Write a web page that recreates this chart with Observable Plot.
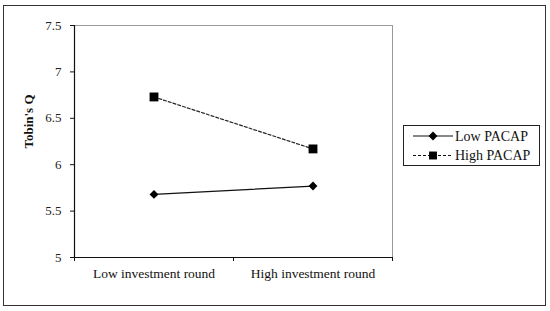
<!DOCTYPE html>
<html>
<head>
<meta charset="utf-8">
<script src="https://cdn.jsdelivr.net/npm/d3@7"></script>
<script src="https://cdn.jsdelivr.net/npm/@observablehq/plot@0.6"></script>
<style>
  html, body { margin: 0; padding: 0; background: #fff; }
  #wrap { position: relative; width: 550px; height: 311px; overflow: hidden; font-family: "Liberation Serif", "Times New Roman", serif; }
  #wrap svg, #wrap svg text { font-family: "Liberation Serif", "Times New Roman", serif !important; }
  #frame { position: absolute; left: 3px; top: 5px; width: 541px; height: 299px; border: 1px solid #333; pointer-events: none; }
  #chart { position: absolute; left: 0; top: 0; }
  #legend { position: absolute; left: 403px; top: 125px; }
</style>
</head>
<body>
<div id="wrap">
  <div id="chart"></div>
  <div id="frame"></div>
  <div id="legend"></div>
</div>
<script>
const categories = ["Low investment round", "High investment round"];
const series = ["Low PACAP", "High PACAP"];
const lowPacap = [5.68, 5.77];
const highPacap = [6.73, 6.17];
const yTicks = [5, 5.5, 6, 6.5, 7, 7.5];
const yLabel = "Tobin's Q";

const data = [];
categories.forEach((c, i) => {
  data.push({cat: c, pos: i + 0.5, series: series[0], value: lowPacap[i]});
  data.push({cat: c, pos: i + 0.5, series: series[1], value: highPacap[i]});
});
const lowData = data.filter(d => d.series === series[0]);
const highData = data.filter(d => d.series === series[1]);
const catPos = categories.map((c, i) => ({cat: c, pos: i + 0.5}));
const boundaries = d3.range(categories.length + 1);

const font = '"Liberation Serif", "Times New Roman", serif';

const chart = Plot.plot({
  width: 550,
  height: 311,
  marginLeft: 74,
  marginRight: 158,
  marginTop: 25,
  marginBottom: 54,
  style: {fontFamily: font, fontSize: "13px", color: "#111", background: "transparent"},
  x: {type: "linear", domain: [0, categories.length], axis: null},
  y: {domain: [5, 7.5], axis: null},
  marks: [
    Plot.ruleY([7.5], {stroke: "#999", strokeWidth: 1}),
    Plot.ruleX([categories.length], {stroke: "#999", strokeWidth: 1}),
    Plot.ruleX([0], {stroke: "#111", strokeWidth: 1.2}),
    Plot.ruleY([5], {stroke: "#111", strokeWidth: 1.2}),
    Plot.axisY({ticks: yTicks, tickSize: 4, tickPadding: 9, tickFormat: d => String(d), fontSize: 13, stroke: "#111", fill: "#222", label: null}),
    Plot.axisX({ticks: boundaries, tickSize: 4, tickFormat: () => "", stroke: "#111", label: null}),
    Plot.text(catPos, {x: "pos", frameAnchor: "bottom", dy: 20, text: "cat", fontSize: 13.5, fill: "#111"}),
    Plot.text([yLabel], {frameAnchor: "left", textAnchor: "middle", dx: -46, dy: -20, rotate: -90, text: d => d, fontWeight: "bold", fontSize: 13, fill: "#111"}),
    Plot.line(lowData, {x: "pos", y: "value", stroke: "#111", strokeWidth: 1.2}),
    Plot.line(highData, {x: "pos", y: "value", stroke: "#222", strokeWidth: 1.2, strokeDasharray: "3,2"}),
    Plot.dot(lowData, {x: "pos", y: "value", symbol: "diamond2", r: 4, fill: "#000", stroke: "none"}),
    Plot.dot(highData, {x: "pos", y: "value", symbol: "square", r: 5, fill: "#000", stroke: "none"})
  ]
});
document.getElementById("chart").appendChild(chart);

// Legend
const lg = d3.select("#legend").append("svg").attr("width", 137).attr("height", 41)
  .style("font-family", font);
lg.append("rect").attr("x", 0.5).attr("y", 0.5).attr("width", 136).attr("height", 40)
  .attr("fill", "#fff").attr("stroke", "#222");
series.forEach((s, i) => {
  const y = 11 + i * 19.5;
  const g = lg.append("g");
  g.append("line").attr("x1", 10).attr("x2", 50).attr("y1", y).attr("y2", y)
    .attr("stroke", "#111").attr("stroke-width", 1.2)
    .attr("stroke-dasharray", i === 1 ? "3,2" : null);
  g.append("path").attr("transform", `translate(30,${y})`)
    .attr("d", d3.symbol(i === 0 ? d3.symbolDiamond2 : d3.symbolSquare, i === 0 ? Math.PI * 16 : Math.PI * 20)())
    .attr("fill", "#000");
  g.append("text").attr("x", 52).attr("y", y).attr("dy", "0.35em")
    .attr("font-size", 14).attr("fill", "#111").text(s);
});
</script>
</body>
</html>
